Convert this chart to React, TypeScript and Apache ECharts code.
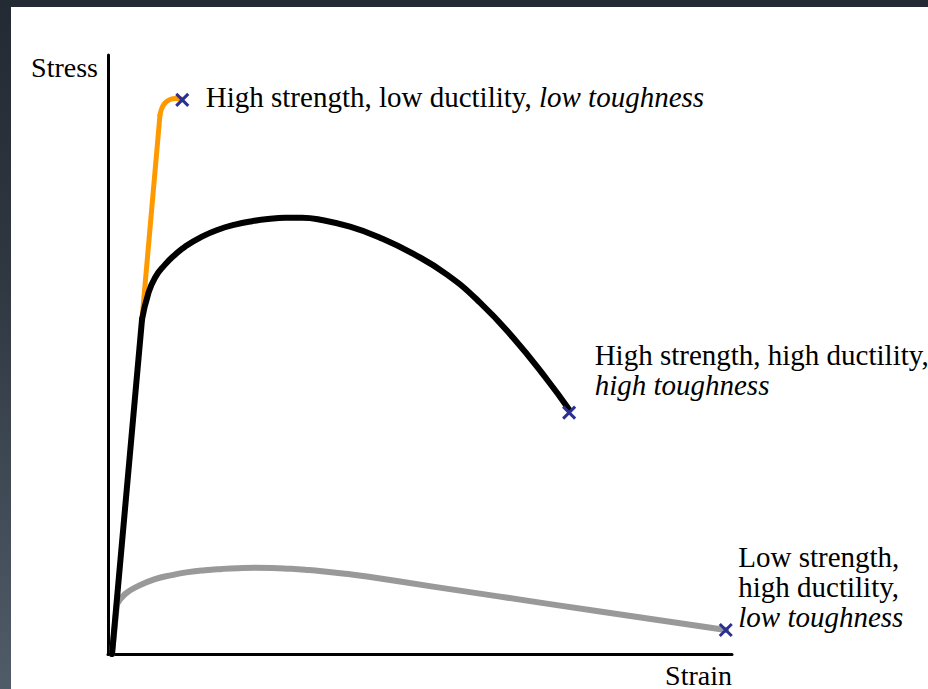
import React, { useEffect, useRef } from "react";
import * as echarts from "echarts";

// Values (arbitrary strain / stress units, 0..100)
const blackElastic: [number, number][] = [[0.64, 0], [5.45, 55.83]];
const blackPlastic: [number, number][] = [
  [5.45, 55.83], [6.41, 60.0], [7.53, 62.83], [9.13, 65.0], [10.74, 66.67], [12.34, 68.0],
  [15.06, 69.67], [17.63, 70.83], [20.35, 71.67], [23.08, 72.25], [25.64, 72.62], [28.37, 72.83],
  [31.09, 72.83], [33.65, 72.58], [38.78, 71.33], [43.59, 69.5], [48.88, 66.83], [54.33, 63.33],
  [59.62, 58.67], [64.9, 52.83], [70.35, 45.83], [73.88, 40.83],
];
const orangeElastic: [number, number][] = [[5.45, 55.83], [8.33, 90.0]];
const orangePlastic: [number, number][] = [
  [8.33, 90.0], [8.65, 91.17], [9.13, 92.0], [9.94, 92.58], [10.9, 92.75], [11.7, 92.67],
];
const grayElastic: [number, number][] = [[0.64, 0], [1.44, 8.33]];
const grayPlastic: [number, number][] = [
  [1.44, 8.33], [2.72, 10.0], [4.81, 11.33], [7.53, 12.5], [10.26, 13.17], [12.82, 13.67],
  [15.54, 14.0], [18.27, 14.2], [20.83, 14.33], [23.56, 14.4], [26.28, 14.37], [29.17, 14.23],
  [31.57, 14.07], [34.29, 13.83], [37.98, 13.4], [41.51, 12.93], [52.08, 11.25], [62.82, 9.58],
  [78.85, 7.08], [99.04, 4.0],
];
const fracturePoints: [number, number][] = [[11.9, 92.5], [73.9, 40.3], [99.0, 4.0]];
const fractureLabels: string[] = [
  "{n|High strength, low ductility, }{i|low toughness}",
  "{n|High strength, high ductility,}\n{i|high toughness}",
  "{n|Low strength,}\n{n|high ductility,}\n{i|low toughness}",
];
const axisNames = { x: "Strain", y: "Stress" };

const FONT = "'Liberation Serif', 'Times New Roman', serif";

export default function App() {
  const ref = useRef<HTMLDivElement>(null);
  useEffect(() => {
    const chart = echarts.init(ref.current!, null, { renderer: "svg" });
    const labelOffsets: [number, number][] = [[31, -10], [33, -65], [20, -81]];
    const lineSeries = (data: [number, number][], color: string, width: number, smooth: boolean | number, z: number) => ({
      type: "line",
      data,
      showSymbol: false,
      smooth,
      z,
      lineStyle: { color, width, cap: "round", join: "round" },
      silent: true,
    });
    chart.setOption({
      animation: false,
      backgroundColor: "#ffffff",
      grid: { left: 97, top: 48, right: 196, bottom: 34 },
      xAxis: {
        type: "value", min: 0, max: 100,
        name: axisNames.x, nameLocation: "end", nameGap: 0,
        nameTextStyle: { fontFamily: FONT, fontSize: 28, color: "#000", align: "right", verticalAlign: "top", padding: [7, 0, 0, 0] },
        axisLine: { show: true, lineStyle: { color: "#000", width: 3 } },
        axisTick: { show: false }, axisLabel: { show: false }, splitLine: { show: false },
      },
      yAxis: {
        type: "value", min: 0, max: 100,
        name: axisNames.y, nameLocation: "end", nameGap: -12,
        nameTextStyle: { fontFamily: FONT, fontSize: 28, color: "#000", align: "right", verticalAlign: "middle", padding: [0, 10, 0, 0] },
        axisLine: { show: true, lineStyle: { color: "#000", width: 3 } },
        axisTick: { show: false }, axisLabel: { show: false }, splitLine: { show: false },
      },
      series: [
        lineSeries(grayElastic, "#999999", 6, false, 2),
        lineSeries(grayPlastic, "#999999", 6, 0.5, 2),
        lineSeries(orangeElastic, "#ff9900", 5, false, 3),
        lineSeries(orangePlastic, "#ff9900", 5, 0.4, 3),
        lineSeries(blackElastic, "#000000", 6, false, 4),
        lineSeries(blackPlastic, "#000000", 6, 0.5, 4),
        {
          type: "scatter",
          z: 6,
          symbol: "path://M0 0L10 10M10 0L0 10",
          symbolSize: 12,
          itemStyle: { color: "transparent", borderColor: "#2b3192", borderWidth: 3, opacity: 1 },
          data: fracturePoints.map((p, i) => ({
            value: p,
            label: {
              show: true,
              formatter: fractureLabels[i],
              position: labelOffsets[i],
              align: "left",
              verticalAlign: "top",
              lineHeight: 30,
              rich: {
                n: { fontFamily: FONT, fontSize: 29, color: "#000", lineHeight: 30 },
                i: { fontFamily: FONT, fontSize: 29, color: "#000", fontStyle: "italic", lineHeight: 30 },
              },
            },
          })),
        },
      ],
    });
    return () => chart.dispose();
  }, []);
  return (
    <div
      style={{
        position: "fixed", left: 0, top: 0, width: 928, height: 689,
        background: "linear-gradient(180deg, #242a33 0%, #2f3741 40%, #505c68 100%)",
      }}
    >
      <div ref={ref} style={{ position: "absolute", left: 11, top: 7, width: 917, height: 682 }} />
    </div>
  );
}
